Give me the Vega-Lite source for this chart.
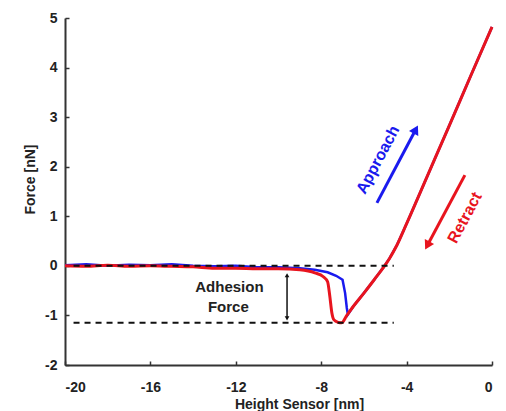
{
  "$schema": "https://vega.github.io/schema/vega-lite/v6.json",
  "autosize": {"type": "none"},
  "padding": {"left": 65, "top": 18, "right": 14, "bottom": 46},
  "width": 427,
  "height": 347,
  "background": "white",
  "config": {
    "view": {"stroke": null},
    "font": "Liberation Sans",
    "axis": {
      "grid": false,
      "domainColor": "#333333",
      "domainWidth": 2,
      "tickColor": "#333333",
      "tickWidth": 1.5,
      "tickSize": -4,
      "labelFont": "Liberation Sans",
      "labelFontWeight": "bold",
      "labelFontSize": 14,
      "labelColor": "#222222",
      "labelExpr": "toString(datum.value)",
      "titleFont": "Liberation Sans",
      "titleFontWeight": "bold",
      "titleFontSize": 14,
      "titleColor": "#222222"
    }
  },
  "datasets": {
    "curves": [
      {"curve": "approach", "h": -20, "f": 0.01},
      {"curve": "approach", "h": -19, "f": 0.03},
      {"curve": "approach", "h": -18, "f": 0.0},
      {"curve": "approach", "h": -17, "f": 0.02},
      {"curve": "approach", "h": -16, "f": 0.01},
      {"curve": "approach", "h": -15, "f": 0.03},
      {"curve": "approach", "h": -14, "f": 0.0},
      {"curve": "approach", "h": -13, "f": -0.01},
      {"curve": "approach", "h": -12, "f": 0.0},
      {"curve": "approach", "h": -11, "f": -0.03},
      {"curve": "approach", "h": -10, "f": -0.03},
      {"curve": "approach", "h": -9, "f": -0.05},
      {"curve": "approach", "h": -8.3, "f": -0.08},
      {"curve": "approach", "h": -7.7, "f": -0.13},
      {"curve": "approach", "h": -7.3, "f": -0.2},
      {"curve": "approach", "h": -7.0, "f": -0.28},
      {"curve": "approach", "h": -6.88, "f": -0.55},
      {"curve": "approach", "h": -6.8, "f": -0.85},
      {"curve": "approach", "h": -6.75, "f": -0.98},
      {"curve": "approach", "h": -6.5, "f": -0.82},
      {"curve": "approach", "h": -6.0, "f": -0.55},
      {"curve": "approach", "h": -5.5, "f": -0.27},
      {"curve": "approach", "h": -5.1, "f": -0.04},
      {"curve": "approach", "h": -4.8, "f": 0.15},
      {"curve": "approach", "h": -4.45, "f": 0.42},
      {"curve": "approach", "h": -4.0, "f": 0.85},
      {"curve": "approach", "h": -3.0, "f": 1.84},
      {"curve": "approach", "h": -2.0, "f": 2.83},
      {"curve": "approach", "h": -1.0, "f": 3.83},
      {"curve": "approach", "h": 0.0, "f": 4.82},
      {"curve": "retract", "h": -20, "f": 0.0},
      {"curve": "retract", "h": -19, "f": -0.01},
      {"curve": "retract", "h": -18, "f": 0.01},
      {"curve": "retract", "h": -17, "f": -0.01},
      {"curve": "retract", "h": -16, "f": 0.0},
      {"curve": "retract", "h": -15, "f": -0.01},
      {"curve": "retract", "h": -14, "f": -0.02},
      {"curve": "retract", "h": -13, "f": -0.05},
      {"curve": "retract", "h": -12, "f": -0.05},
      {"curve": "retract", "h": -11, "f": -0.06},
      {"curve": "retract", "h": -10, "f": -0.06},
      {"curve": "retract", "h": -9, "f": -0.08},
      {"curve": "retract", "h": -8.3, "f": -0.14},
      {"curve": "retract", "h": -7.9, "f": -0.22},
      {"curve": "retract", "h": -7.7, "f": -0.32},
      {"curve": "retract", "h": -7.6, "f": -0.6},
      {"curve": "retract", "h": -7.5, "f": -0.95},
      {"curve": "retract", "h": -7.4, "f": -1.09},
      {"curve": "retract", "h": -7.2, "f": -1.14},
      {"curve": "retract", "h": -7.05, "f": -1.15},
      {"curve": "retract", "h": -6.8, "f": -1.0},
      {"curve": "retract", "h": -6.5, "f": -0.82},
      {"curve": "retract", "h": -6.0, "f": -0.55},
      {"curve": "retract", "h": -5.5, "f": -0.27},
      {"curve": "retract", "h": -5.1, "f": -0.04},
      {"curve": "retract", "h": -4.8, "f": 0.15},
      {"curve": "retract", "h": -4.45, "f": 0.42},
      {"curve": "retract", "h": -4.0, "f": 0.85},
      {"curve": "retract", "h": -3.0, "f": 1.84},
      {"curve": "retract", "h": -2.0, "f": 2.83},
      {"curve": "retract", "h": -1.0, "f": 3.83},
      {"curve": "retract", "h": 0.0, "f": 4.82}
    ],
    "dashes": [
      {"h": -19.6, "h2": -4.6, "f": 0},
      {"h": -19.6, "h2": -4.6, "f": -1.15}
    ],
    "arrows": [
      {"name": "approach", "h": -5.39, "f": 1.27, "h2": -3.57, "f2": 2.75},
      {"name": "retract", "h": -1.27, "f": 1.83, "h2": -3.03, "f2": 0.41},
      {"name": "adhesion", "h": -9.6, "f": -0.2, "h2": -9.6, "f2": -1.05}
    ],
    "heads": [
      {"name": "approach", "h": -3.57, "f": 2.75},
      {"name": "retract", "h": -3.03, "f": 0.41},
      {"name": "adhesionTop", "h": -9.6, "f": -0.19},
      {"name": "adhesionBottom", "h": -9.6, "f": -1.06}
    ],
    "labels": [
      {"name": "approach", "text": "Approach", "h": -5.34, "f": 2.14},
      {"name": "retract", "text": "Retract", "h": -1.27, "f": 0.97},
      {"name": "adhesion", "text": "Adhesion", "h": -12.3, "f": -0.42},
      {"name": "adhesion", "text": "Force", "h": -12.35, "f": -0.83}
    ]
  },
  "encoding": {
    "x": {
      "field": "h", "type": "quantitative",
      "scale": {"domain": [-20, 0], "nice": false, "zero": false},
      "axis": {
        "values": [-20, -16, -12, -8, -4, 0],
        "title": "Height Sensor [nm]",
        "labelPadding": 19,
        "titleX": 234, "titleY": 32, "titleBaseline": "top", "titleAnchor": "middle", "titleAlign": "center"
      }
    },
    "y": {
      "field": "f", "type": "quantitative",
      "scale": {"domain": [-2, 5], "nice": false, "zero": false},
      "axis": {
        "values": [-2, -1, 0, 1, 2, 3, 4, 5],
        "title": "Force [nN]",
        "labelPadding": 12,
        "titleX": -28, "titleY": 161
      }
    }
  },
  "layer": [
    {
      "data": {"name": "curves"},
      "transform": [{"filter": "datum.curve === 'approach'"}],
      "mark": {"type": "line", "color": "#1a1aee", "strokeWidth": 2.5},
      "encoding": {"order": {"field": "h", "type": "quantitative"}}
    },
    {
      "data": {"name": "curves"},
      "transform": [{"filter": "datum.curve === 'retract'"}],
      "mark": {"type": "line", "color": "#e8141e", "strokeWidth": 3, "interpolate": "monotone"},
      "encoding": {"order": {"field": "h", "type": "quantitative"}}
    },
    {
      "data": {"name": "dashes"},
      "mark": {"type": "rule", "color": "#111111", "strokeWidth": 2, "strokeDash": [6, 5]},
      "encoding": {"x2": {"field": "h2"}}
    },
    {
      "data": {"name": "arrows"},
      "transform": [{"filter": "datum.name === 'approach'"}],
      "mark": {"type": "rule", "color": "#1a1aee", "strokeWidth": 3},
      "encoding": {"x2": {"field": "h2"}, "y2": {"field": "f2"}}
    },
    {
      "data": {"name": "arrows"},
      "transform": [{"filter": "datum.name === 'retract'"}],
      "mark": {"type": "rule", "color": "#e8141e", "strokeWidth": 3},
      "encoding": {"x2": {"field": "h2"}, "y2": {"field": "f2"}}
    },
    {
      "data": {"name": "arrows"},
      "transform": [{"filter": "datum.name === 'adhesion'"}],
      "mark": {"type": "rule", "color": "#111111", "strokeWidth": 1.5},
      "encoding": {"x2": {"field": "h2"}, "y2": {"field": "f2"}}
    },
    {
      "data": {"name": "heads"},
      "transform": [{"filter": "datum.name === 'approach'"}],
      "mark": {"type": "point", "shape": "triangle-up", "filled": true, "color": "#1a1aee", "size": 110, "angle": 28, "opacity": 1},
      "encoding": {}
    },
    {
      "data": {"name": "heads"},
      "transform": [{"filter": "datum.name === 'retract'"}],
      "mark": {"type": "point", "shape": "triangle-up", "filled": true, "color": "#e8141e", "size": 110, "angle": 208, "opacity": 1},
      "encoding": {}
    },
    {
      "data": {"name": "heads"},
      "transform": [{"filter": "datum.name === 'adhesionTop'"}],
      "mark": {"type": "point", "shape": "triangle-up", "filled": true, "color": "#111111", "size": 22, "opacity": 1},
      "encoding": {}
    },
    {
      "data": {"name": "heads"},
      "transform": [{"filter": "datum.name === 'adhesionBottom'"}],
      "mark": {"type": "point", "shape": "triangle-down", "filled": true, "color": "#111111", "size": 22, "opacity": 1},
      "encoding": {}
    },
    {
      "data": {"name": "labels"},
      "transform": [{"filter": "datum.name === 'approach'"}],
      "mark": {"type": "text", "font": "Liberation Sans", "fontWeight": "bold", "fontSize": 16, "color": "#1a1aee", "angle": -62, "align": "center", "baseline": "middle"},
      "encoding": {"text": {"field": "text"}}
    },
    {
      "data": {"name": "labels"},
      "transform": [{"filter": "datum.name === 'retract'"}],
      "mark": {"type": "text", "font": "Liberation Sans", "fontWeight": "bold", "fontSize": 16, "color": "#e8141e", "angle": -62, "align": "center", "baseline": "middle"},
      "encoding": {"text": {"field": "text"}}
    },
    {
      "data": {"name": "labels"},
      "transform": [{"filter": "datum.name === 'adhesion'"}],
      "mark": {"type": "text", "font": "Liberation Sans", "fontWeight": "bold", "fontSize": 15, "color": "#222222", "align": "center", "baseline": "middle"},
      "encoding": {"text": {"field": "text"}}
    }
  ]
}
